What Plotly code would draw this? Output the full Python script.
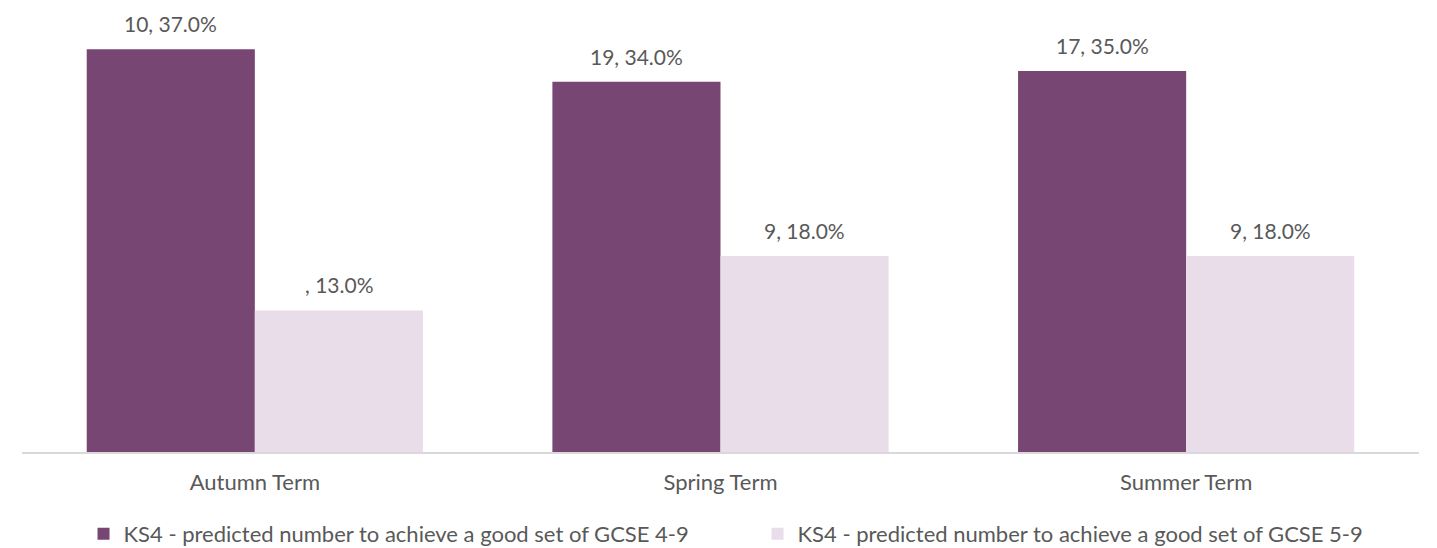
import plotly.graph_objects as go

categories = ["Autumn Term", "Spring Term", "Summer Term"]
series_names = [
    "KS4 - predicted number to achieve a good set of GCSE 4-9",
    "KS4 - predicted number to achieve a good set of GCSE 5-9",
]
counts_49 = [10, 19, 17]
pct_49 = [37.0, 34.0, 35.0]
counts_59 = [None, 9, 9]
pct_59 = [13.0, 18.0, 18.0]

colors = ["#774673", "#E9DDEA"]
text_color = "#595959"
FONT = "Lato"

def labels(counts, pcts):
    return [f"{'' if c is None else c}, {p:.1f}%" for c, p in zip(counts, pcts)]

fig = go.Figure()
fig.add_trace(go.Bar(x=categories, y=pct_49, name=series_names[0],
                     marker=dict(color=colors[0], line=dict(width=0))))
fig.add_trace(go.Bar(x=categories, y=pct_59, name=series_names[1],
                     marker=dict(color=colors[1], line=dict(width=0))))

annotations = []
half = 84
for shift, counts, pcts in [(-half, counts_49, pct_49), (half, counts_59, pct_59)]:
    for cat, txt, val in zip(categories, labels(counts, pcts), pcts):
        annotations.append(dict(x=cat, y=val, text=txt, showarrow=False,
                                xshift=shift, yshift=11, yanchor="bottom",
                                font=dict(family=FONT, size=21, color=text_color)))

fig.update_layout(
    width=1429, height=540,
    margin=dict(l=14, r=18, t=2, b=96, autoexpand=False),
    plot_bgcolor="white", paper_bgcolor="white",
    barmode="group", bargap=0.278, bargroupgap=0,
    font=dict(family=FONT, size=21, color=text_color),
    xaxis=dict(showline=True, linecolor="#D9D9D9", linewidth=2,
               showgrid=False, ticks="", ticklabelstandoff=10,
               tickfont=dict(size=22, color=text_color)),
    yaxis=dict(range=[0, 40.6], visible=False, showgrid=False),
    legend=dict(orientation="h", x=0.5265, xanchor="center", y=-0.1855, yanchor="middle",
                font=dict(size=22, color=text_color), entrywidth=629,
                itemwidth=30, traceorder="normal"),
    annotations=annotations,
    showlegend=True,
)
fig.write_html("out.html")
